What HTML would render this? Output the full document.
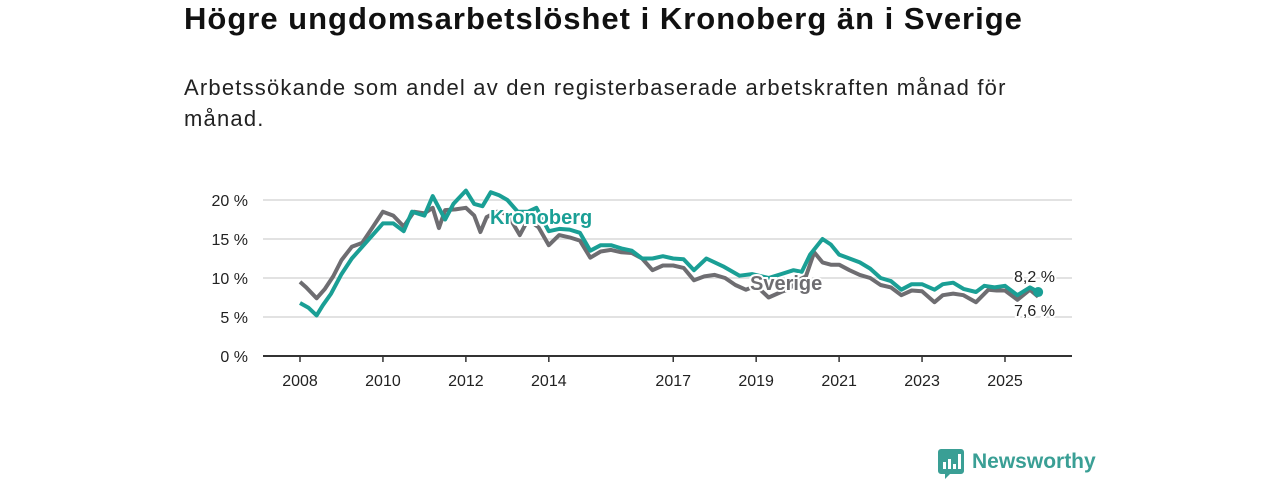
<!DOCTYPE html>
<html><head><meta charset="utf-8"><style>
body{margin:0;width:1280px;height:480px;background:#fff;font-family:"Liberation Sans",sans-serif;overflow:hidden;position:relative}
h1{position:absolute;left:184px;top:1px;margin:0;font-size:31px;letter-spacing:1px;font-weight:bold;color:#111}
.sub{position:absolute;left:184px;top:72px;width:850px;font-size:22px;letter-spacing:1.2px;line-height:31px;color:#222}
</style></head><body>
<h1>Högre ungdomsarbetslöshet i Kronoberg än i Sverige</h1>
<div class="sub">Arbetssökande som andel av den registerbaserade arbetskraften månad för månad.</div>
<svg id="c" width="1280" height="480" style="position:absolute;left:0;top:0"></svg>
<script>
const yTicks=[0,5,10,15,20];
const xTickYears=[2008,2010,2012,2014,2017,2019,2021,2023,2025];
const sverigeDates=[2008,2008.15,2008.4,2008.6,2008.8,2009,2009.25,2009.5,2009.75,2010,2010.25,2010.5,2010.75,2011,2011.2,2011.35,2011.5,2011.75,2012,2012.2,2012.35,2012.5,2012.75,2013,2013.3,2013.5,2013.75,2014,2014.25,2014.5,2014.75,2015,2015.25,2015.5,2015.75,2016,2016.25,2016.5,2016.75,2017,2017.25,2017.5,2017.75,2018,2018.25,2018.5,2018.75,2019,2019.3,2019.6,2019.8,2020,2020.2,2020.4,2020.6,2020.8,2021,2021.25,2021.5,2021.75,2022,2022.25,2022.5,2022.75,2023,2023.3,2023.5,2023.75,2024,2024.3,2024.6,2024.8,2025,2025.3,2025.6,2025.8];
const sverigeValues=[9.5,8.8,7.4,8.6,10.2,12.3,14,14.5,16.5,18.5,18,16.6,18.5,18.3,19,16.4,18.7,18.8,19,18,15.9,17.8,18.5,18.2,15.5,17.5,16.5,14.2,15.5,15.2,14.8,12.6,13.4,13.6,13.3,13.2,12.5,11,11.6,11.6,11.3,9.7,10.2,10.4,10,9.1,8.5,9,7.5,8.2,8.6,9.7,10.2,13.3,12,11.7,11.7,11,10.4,10,9.1,8.8,7.8,8.4,8.3,6.9,7.8,8,7.8,6.9,8.5,8.4,8.4,7.2,8.5,7.6];
const kronDates=[2008,2008.2,2008.4,2008.55,2008.75,2009,2009.25,2009.5,2009.75,2010,2010.25,2010.5,2010.7,2011,2011.2,2011.5,2011.7,2012,2012.2,2012.4,2012.6,2012.8,2013,2013.25,2013.5,2013.7,2014,2014.25,2014.5,2014.75,2015,2015.25,2015.5,2015.75,2016,2016.25,2016.5,2016.75,2017,2017.25,2017.5,2017.8,2018.2,2018.6,2018.9,2019.3,2019.6,2019.9,2020.1,2020.3,2020.6,2020.8,2021,2021.25,2021.5,2021.75,2022,2022.25,2022.5,2022.75,2023,2023.3,2023.5,2023.75,2024,2024.3,2024.5,2024.75,2025,2025.3,2025.6,2025.8];
const kronValues=[6.8,6.2,5.2,6.5,8,10.5,12.5,14,15.5,17,17,16,18.5,18,20.5,17.5,19.5,21.2,19.5,19.2,21,20.6,20,18.5,18.5,19,16,16.3,16.2,15.8,13.5,14.2,14.2,13.8,13.5,12.5,12.5,12.8,12.5,12.4,11,12.5,11.5,10.3,10.5,10,10.5,11,10.8,13,15,14.3,13,12.5,12,11.2,10,9.6,8.5,9.2,9.2,8.5,9.2,9.4,8.6,8.2,9,8.8,9,7.8,8.8,8.2];
const X0=300,PX=41.47,Y0=356,PY=7.8;
const x=d=>X0+(d-2008)*PX, y=v=>Y0-v*PY;
const svg=document.getElementById('c'),NS='http://www.w3.org/2000/svg';
function mk(t,a,txt){const e=document.createElementNS(NS,t);for(const k in a)e.setAttribute(k,a[k]);if(txt!=null)e.textContent=txt;svg.appendChild(e);return e;}
yTicks.forEach(v=>{
 if(v>0){const g=mk('line',{x1:263,x2:1072,y1:y(v),y2:y(v),stroke:'#d9d9d9','stroke-width':1.5});
 
 }
 const t=mk('text',{x:248,y:y(v)+6,'text-anchor':'end','font-size':16,fill:'#222'},v+' %');
 
 
});
const ax=mk('line',{x1:263,x2:1072,y1:Y0,y2:Y0,stroke:'#333','stroke-width':2});


xTickYears.forEach(yr=>{
 const tk=mk('line',{x1:x(yr),x2:x(yr),y1:Y0,y2:Y0+6,stroke:'#333','stroke-width':1.5});
 
 
 const t=mk('text',{x:x(yr),y:386,'text-anchor':'middle','font-size':16,fill:'#222'},yr);
 
 
});
function line(ds,vs,col,name){
 const p=mk('path',{d:ds.map((d,i)=>(i?'L':'M')+x(d).toFixed(1)+','+y(vs[i]).toFixed(1)).join(''),fill:'none',stroke:col,'stroke-width':4,'stroke-linejoin':'round'});
 
 
}
line(sverigeDates,sverigeValues,'#6e6d71','series-sverige');
line(kronDates,kronValues,'#1a9f95','series-kronoberg');
function lbl(tx,ty,txt,col,name,sz,w){
 mk('text',{x:tx,y:ty,'font-size':sz,'font-weight':w,fill:'#fff',stroke:'#fff','stroke-width':4},txt);
 const t=mk('text',{x:tx,y:ty,'font-size':sz,'font-weight':w,fill:col},txt);
 
 
}
lbl(490,224,'Kronoberg','#1a9f95','label-kronoberg',20,'bold');
lbl(750,290,'Sverige','#6e6d71','label-sverige',20,'bold');
lbl(1014,282,'8,2 %','#222','end-value-kronoberg',16,'normal');
lbl(1014,316,'7,6 %','#222','end-value-sverige',16,'normal');
const dt=mk('circle',{cx:x(kronDates[kronDates.length-1]),cy:y(kronValues[kronValues.length-1]),r:5,fill:'#1a9f95'});


</script>
<div style="position:absolute;left:938px;top:449px;display:flex;align-items:center">
 <svg width="26" height="30"><path d="M0 3a3 3 0 0 1 3-3h20a3 3 0 0 1 3 3v19a3 3 0 0 1-3 3H12l-5 5v-5H3a3 3 0 0 1-3-3z" fill="#3a9f95"/><rect x="5" y="13" width="3" height="7" fill="#fff"/><rect x="10" y="10" width="3" height="10" fill="#fff"/><rect x="15" y="15" width="3" height="5" fill="#fff"/><rect x="20" y="5" width="3" height="15" fill="#fff"/></svg>
 <span style="font-size:21px;color:#3a9f95;margin-left:8px;margin-top:-4px;font-weight:bold">Newsworthy</span>
</div>
</body></html>
